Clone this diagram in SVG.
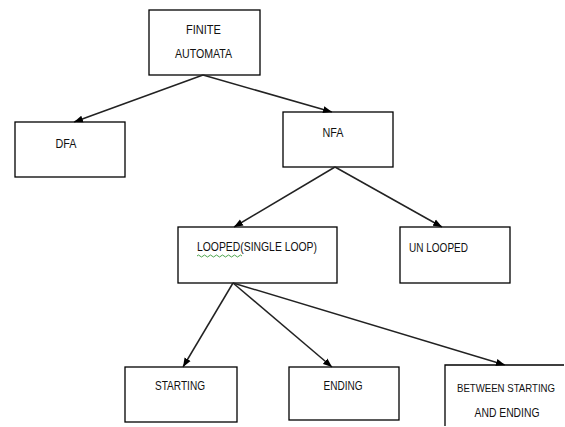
<svg xmlns="http://www.w3.org/2000/svg" width="565" height="427" viewBox="0 0 565 427">
<style>
.box{fill:#fff;stroke:#000;stroke-width:1.3}
.t{font-family:"Liberation Sans",Arial,sans-serif;font-size:13px;fill:#111;text-anchor:middle}
.tl{font-family:"Liberation Sans",Arial,sans-serif;font-size:13px;fill:#111}
.c{stroke:#222;stroke-width:1.5;fill:none;marker-end:url(#ah)}
</style>
<defs>
<marker id="ah" markerWidth="10" markerHeight="8" refX="9" refY="4" orient="auto" markerUnits="userSpaceOnUse">
<path d="M0,0.5 L9,4 L0,7.5 Z" fill="#000"/>
</marker>
</defs>
<rect width="565" height="427" fill="#fff"/>
<g id="finite">
<rect class="box" x="149" y="10" width="111" height="65"/>
<text class="t" x="203.5" y="34" textLength="35" lengthAdjust="spacingAndGlyphs">FINITE</text>
<text class="t" x="203.5" y="58" textLength="57" lengthAdjust="spacingAndGlyphs">AUTOMATA</text>
</g>
<g id="dfa">
<rect class="box" x="15" y="122" width="110" height="55"/>
<text class="t" x="66" y="148" textLength="21" lengthAdjust="spacingAndGlyphs">DFA</text>
</g>
<g id="nfa">
<rect class="box" x="283" y="112" width="110" height="55"/>
<text class="t" x="333" y="137" textLength="21" lengthAdjust="spacingAndGlyphs">NFA</text>
</g>
<g id="looped">
<rect class="box" x="178" y="227" width="159" height="56"/>
<text class="tl" x="197" y="251" textLength="120" lengthAdjust="spacingAndGlyphs">LOOPED(SINGLE LOOP)</text>
<path d="M197,256 q1.5,-2 3,0 t3,0 t3,0 t3,0 t3,0 t3,0 t3,0 t3,0 t3,0 t3,0 t3,0 t3,0 t3,0 t3,0 t3,0" fill="none" stroke="#3a9a3a" stroke-width="0.9"/>
</g>
<g id="unlooped">
<rect class="box" x="400" y="227" width="110" height="56"/>
<text class="tl" x="409" y="252" textLength="59" lengthAdjust="spacingAndGlyphs">UN LOOPED</text>
</g>
<g id="starting">
<rect class="box" x="125" y="367" width="112" height="55"/>
<text class="t" x="180" y="390" textLength="50" lengthAdjust="spacingAndGlyphs">STARTING</text>
</g>
<g id="ending">
<rect class="box" x="289" y="367" width="110" height="53"/>
<text class="t" x="343" y="390" textLength="39" lengthAdjust="spacingAndGlyphs">ENDING</text>
</g>
<g id="between">
<path d="M445,426 L445,365 L564,365" fill="none" stroke="#000" stroke-width="1.3"/>
<text class="t" x="506" y="392" style="font-size:10.5px" textLength="98" lengthAdjust="spacingAndGlyphs">BETWEEN STARTING</text>
<text class="t" x="507" y="417" textLength="65" lengthAdjust="spacingAndGlyphs">AND ENDING</text>
</g>
<g id="connectors">
<line class="c" x1="203" y1="75" x2="74" y2="122"/>
<line class="c" x1="203" y1="75" x2="332" y2="112"/>
<line class="c" x1="335" y1="167" x2="234" y2="227"/>
<line class="c" x1="335" y1="167" x2="442" y2="227"/>
<line class="c" x1="233" y1="283" x2="183" y2="367"/>
<line class="c" x1="233" y1="283" x2="332" y2="367"/>
<line class="c" x1="233" y1="283" x2="505" y2="365"/>
</g>
</svg>
